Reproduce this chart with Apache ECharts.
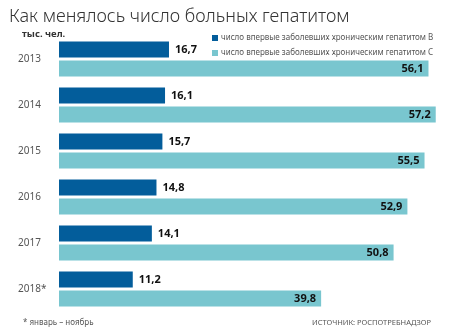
<!DOCTYPE html>
<html><head><meta charset="utf-8">
<script src="https://cdn.jsdelivr.net/npm/echarts@6/dist/echarts.min.js"></script>
<style>html,body{margin:0;padding:0;background:#fff}#c{width:450px;height:336px}</style>
</head><body><div id="c"></div>
<script>
var years = ['2013','2014','2015','2016','2017','2018*'];
var hepB = [16.7, 16.1, 15.7, 14.8, 14.1, 11.2];
var hepC = [56.1, 57.2, 55.5, 52.9, 50.8, 39.8];
var nameB = 'число впервые заболевших хроническим гепатитом В';
var nameC = 'число впервые заболевших хроническим гепатитом С';
var font = 'Noto Sans';
function fmt(p){ return String(p.value).replace('.', ','); }
var chart = echarts.init(document.getElementById('c'));
chart.setOption({
  animation: false,
  textStyle: {fontFamily: font},
  title: [
    {text: 'Как менялось число больных гепатитом', left: 4, top: 3,
     textStyle: {fontFamily: font, fontSize: 18, fontWeight: 300, color: '#333'}},
    {text: 'тыс. чел.', left: 17, top: 24,
     textStyle: {fontFamily: font, fontSize: 9.5, fontWeight: 'bold', color: '#333'}},
    {text: '* январь – ноябрь', left: 18, top: 314,
     textStyle: {fontFamily: font, fontSize: 8, fontWeight: 'normal', color: '#555'}},
    {text: 'ИСТОЧНИК: РОСПОТРЕБНАДЗОР', right: 14, top: 314,
     textStyle: {fontFamily: font, fontSize: 7.5, fontWeight: 'normal', color: '#555'}}
  ],
  legend: {
    orient: 'vertical', left: 207, top: 29, itemWidth: 6, itemHeight: 6, itemGap: 7,
    icon: 'rect', selectedMode: false,
    textStyle: {fontFamily: font, fontSize: 8, color: '#555', padding: [0,0,0,-2]},
    data: [nameB, nameC]
  },
  grid: {left: 59, right: 9, top: 36, bottom: 24},
  xAxis: {type: 'value', min: 0, max: 58, show: false},
  yAxis: {
    type: 'category', data: years, inverse: true,
    axisLine: {show: false}, axisTick: {show: false},
    axisLabel: {align: 'left', margin: 41, fontSize: 10, color: '#555', fontFamily: font}
  },
  series: [
    {name: nameB, type: 'bar', data: hepB, barWidth: 16, barGap: '19%',
     itemStyle: {color: '#035d9b'},
     label: {show: true, position: 'right', distance: 6, formatter: fmt,
             fontFamily: font, fontSize: 11, fontWeight: 'bold', color: '#111'}},
    {name: nameC, type: 'bar', data: hepC, barWidth: 16,
     itemStyle: {color: '#79c6cf'},
     label: {show: true, position: 'insideRight', distance: 5, formatter: fmt,
             fontFamily: font, fontSize: 11, fontWeight: 'bold', color: '#111'}}
  ]
});
</script></body></html>
